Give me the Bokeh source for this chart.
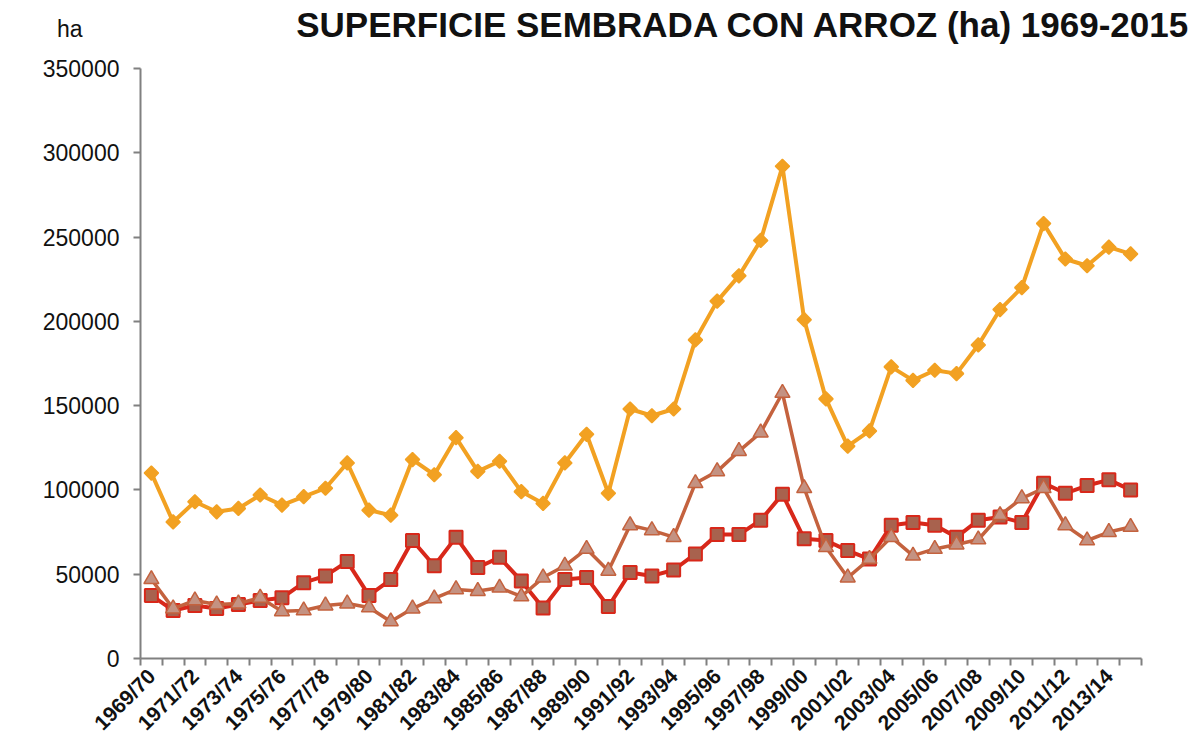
import math
from bokeh.plotting import figure
from bokeh.models import FixedTicker, NumeralTickFormatter, Label, LinearAxis
from bokeh.embed import file_html
from bokeh.resources import INLINE

seasons = ["1969/70", "1970/71", "1971/72", "1972/73", "1973/74", "1974/75", "1975/76", "1976/77",
           "1977/78", "1978/79", "1979/80", "1980/81", "1981/82", "1982/83", "1983/84", "1984/85",
           "1985/86", "1986/87", "1987/88", "1988/89", "1989/90", "1990/91", "1991/92", "1992/93",
           "1993/94", "1994/95", "1995/96", "1996/97", "1997/98", "1998/99", "1999/00", "2000/01",
           "2001/02", "2002/03", "2003/04", "2004/05", "2005/06", "2006/07", "2007/08", "2008/09",
           "2009/10", "2010/11", "2011/12", "2012/13", "2013/14", "2014/15"]

tick_labels = ["1969/70", "1971/72", "1973/74", "1975/76", "1977/78", "1979/80", "1981/82",
               "1983/84", "1985/86", "1987/88", "1989/90", "1991/92", "1993/94", "1995/96",
               "1997/98", "1999/00", "2001/02", "2003/04", "2005/06", "2007/08", "2009/10",
               "2011/12", "2013/14"]

total = [110000, 81000, 93000, 87000, 89000, 97000, 91000, 96000, 101000, 116000,
         88000, 85000, 118000, 109000, 131000, 111000, 117000, 99000, 92000, 116000,
         133000, 98000, 148000, 144000, 148000, 189000, 212000, 227000, 248000, 292000,
         201000, 154000, 126000, 135000, 173000, 165000, 171000, 169000, 186000, 207000,
         220000, 258000, 237000, 233000, 244000, 240000]

squares = [37400, 28500, 31400, 29600, 32000, 34400, 36000, 45000, 49000, 57500,
           37400, 46800, 70000, 55000, 72000, 54000, 60000, 46000, 30000, 46800,
           48000, 30800, 51000, 49000, 52500, 62000, 73500, 73500, 82000, 97500,
           71000, 70000, 64000, 59000, 79000, 80700, 79000, 72000, 82000, 84000,
           80700, 104000, 98000, 102600, 106000, 100000]

triangles = [47000, 29600, 34400, 32000, 32600, 36000, 28000, 28500, 31400, 32600,
             30300, 22000, 29600, 35600, 41000, 40000, 42000, 36800, 48000, 55000,
             65000, 52000, 79000, 76000, 72000, 104000, 111000, 123000, 134000, 157500,
             101000, 66000, 48000, 59000, 72000, 61000, 65000, 67600, 70600, 85000,
             95000, 101000, 79000, 70000, 75000, 78000]

y_ticks = [0, 50000, 100000, 150000, 200000, 250000, 300000, 350000]

title_text = "SUPERFICIE SEMBRADA CON ARROZ (ha) 1969-2015"
unit_text = "ha"

# ---- layout geometry (pixels) ----
W, H = 1198, 752
LEFT, BOTTOM = 140, 94            # frame starts at x=140, x-axis at y=658
AXIS_TOP_PX = 68                  # where 350000 sits
Y_MAX = 350000
N = len(seasons)
frame_h = H - BOTTOM
frame_w = W - LEFT
px_per_cat = 1001 / N
y_end = Y_MAX * frame_h / (frame_h - AXIS_TOP_PX)
x_end = -0.5 + frame_w / px_per_cat

def y_at(py):
    return (frame_h - py) * y_end / frame_h

def x_at(px):
    return -0.5 + (px - LEFT) / px_per_cat

x = list(range(N))

p = figure(width=W, height=H, x_range=(-0.5, x_end), y_range=(0, y_end),
           output_backend="svg", toolbar_location=None,
           min_border_left=LEFT, min_border_right=0, min_border_top=0, min_border_bottom=BOTTOM)

p.outline_line_color = None
p.xgrid.visible = False
p.ygrid.visible = False
p.background_fill_color = "white"
p.border_fill_color = "white"

FONT = "Liberation Sans"
AXIS_GREY = "#808080"
TEXT = "#111111"

# x axis
p.xaxis.bounds = (-0.5, N - 0.5)
p.xaxis.ticker = FixedTicker(ticks=[seasons.index(t) for t in tick_labels],
                             minor_ticks=[i - 0.5 for i in range(N + 1)])
p.xaxis.major_label_overrides = {seasons.index(t): t for t in tick_labels}
p.xaxis.major_label_orientation = math.pi / 4
p.xaxis.major_tick_out = 0
p.xaxis.major_tick_in = 0
p.xaxis.minor_tick_out = 7
p.xaxis.minor_tick_in = 0
p.xaxis.minor_tick_line_color = AXIS_GREY
p.xaxis.minor_tick_line_width = 2
p.xaxis.major_label_standoff = 7
p.xaxis.major_label_text_font = FONT
p.xaxis.major_label_text_font_size = "21px"
p.xaxis.major_label_text_font_style = "bold"
p.xaxis.major_label_text_color = TEXT
p.xaxis.axis_line_color = AXIS_GREY
p.xaxis.axis_line_width = 2

# y axis
p.yaxis.bounds = (0, Y_MAX)
p.yaxis.ticker = FixedTicker(ticks=y_ticks)
p.yaxis.formatter = NumeralTickFormatter(format="0")
p.yaxis.major_tick_out = 7
p.yaxis.major_tick_in = 0
p.yaxis.minor_tick_out = 0
p.yaxis.minor_tick_in = 0
p.yaxis.major_tick_line_color = AXIS_GREY
p.yaxis.major_tick_line_width = 2
p.yaxis.axis_line_color = AXIS_GREY
p.yaxis.axis_line_width = 2
p.yaxis.major_label_standoff = 14
p.yaxis.major_label_text_font = FONT
p.yaxis.major_label_text_font_size = "23px"
p.yaxis.major_label_text_color = TEXT

# unit label "ha" as a secondary (line-less) axis label
ha_val = round(y_at(29))
ax2 = LinearAxis(ticker=FixedTicker(ticks=[ha_val]),
                 major_label_overrides={ha_val: unit_text},
                 axis_line_color=None, major_tick_line_color=None, minor_tick_line_color=None,
                 major_tick_out=0, major_tick_in=0, minor_tick_out=0, minor_tick_in=0,
                 major_label_standoff=-43, major_label_text_font=FONT,
                 major_label_text_font_size="23px", major_label_text_color=TEXT)
p.add_layout(ax2, "left")

# series
ORANGE = "#F2A122"
RED = "#D8281A"
SQ_FILL = "#A8624E"
BROWN = "#C4623E"
TRI_FILL = "#C49282"

p.line(x, total, line_color=ORANGE, line_width=4)
p.scatter(x, total, marker="square", angle=math.pi / 4, size=10,
          fill_color=ORANGE, line_color=ORANGE, line_width=1.5)

p.line(x, squares, line_color=RED, line_width=4)
p.scatter(x, squares, marker="square", size=13,
          fill_color=SQ_FILL, line_color=RED, line_width=2)

p.line(x, triangles, line_color=BROWN, line_width=3.5)
p.scatter(x, triangles, marker="triangle", size=15,
          fill_color=TRI_FILL, line_color=BROWN, line_width=1.5)

# title (inside the extended frame, above the y-axis extent)
p.add_layout(Label(x=x_at(743), y=y_at(24), x_units="data", y_units="data",
                   text=title_text,
                   text_align="center", text_baseline="alphabetic",
                   text_font=FONT, text_font_size="35px", text_font_style="bold",
                   text_color=TEXT))

open("out.html", "w").write(file_html(p, INLINE))
